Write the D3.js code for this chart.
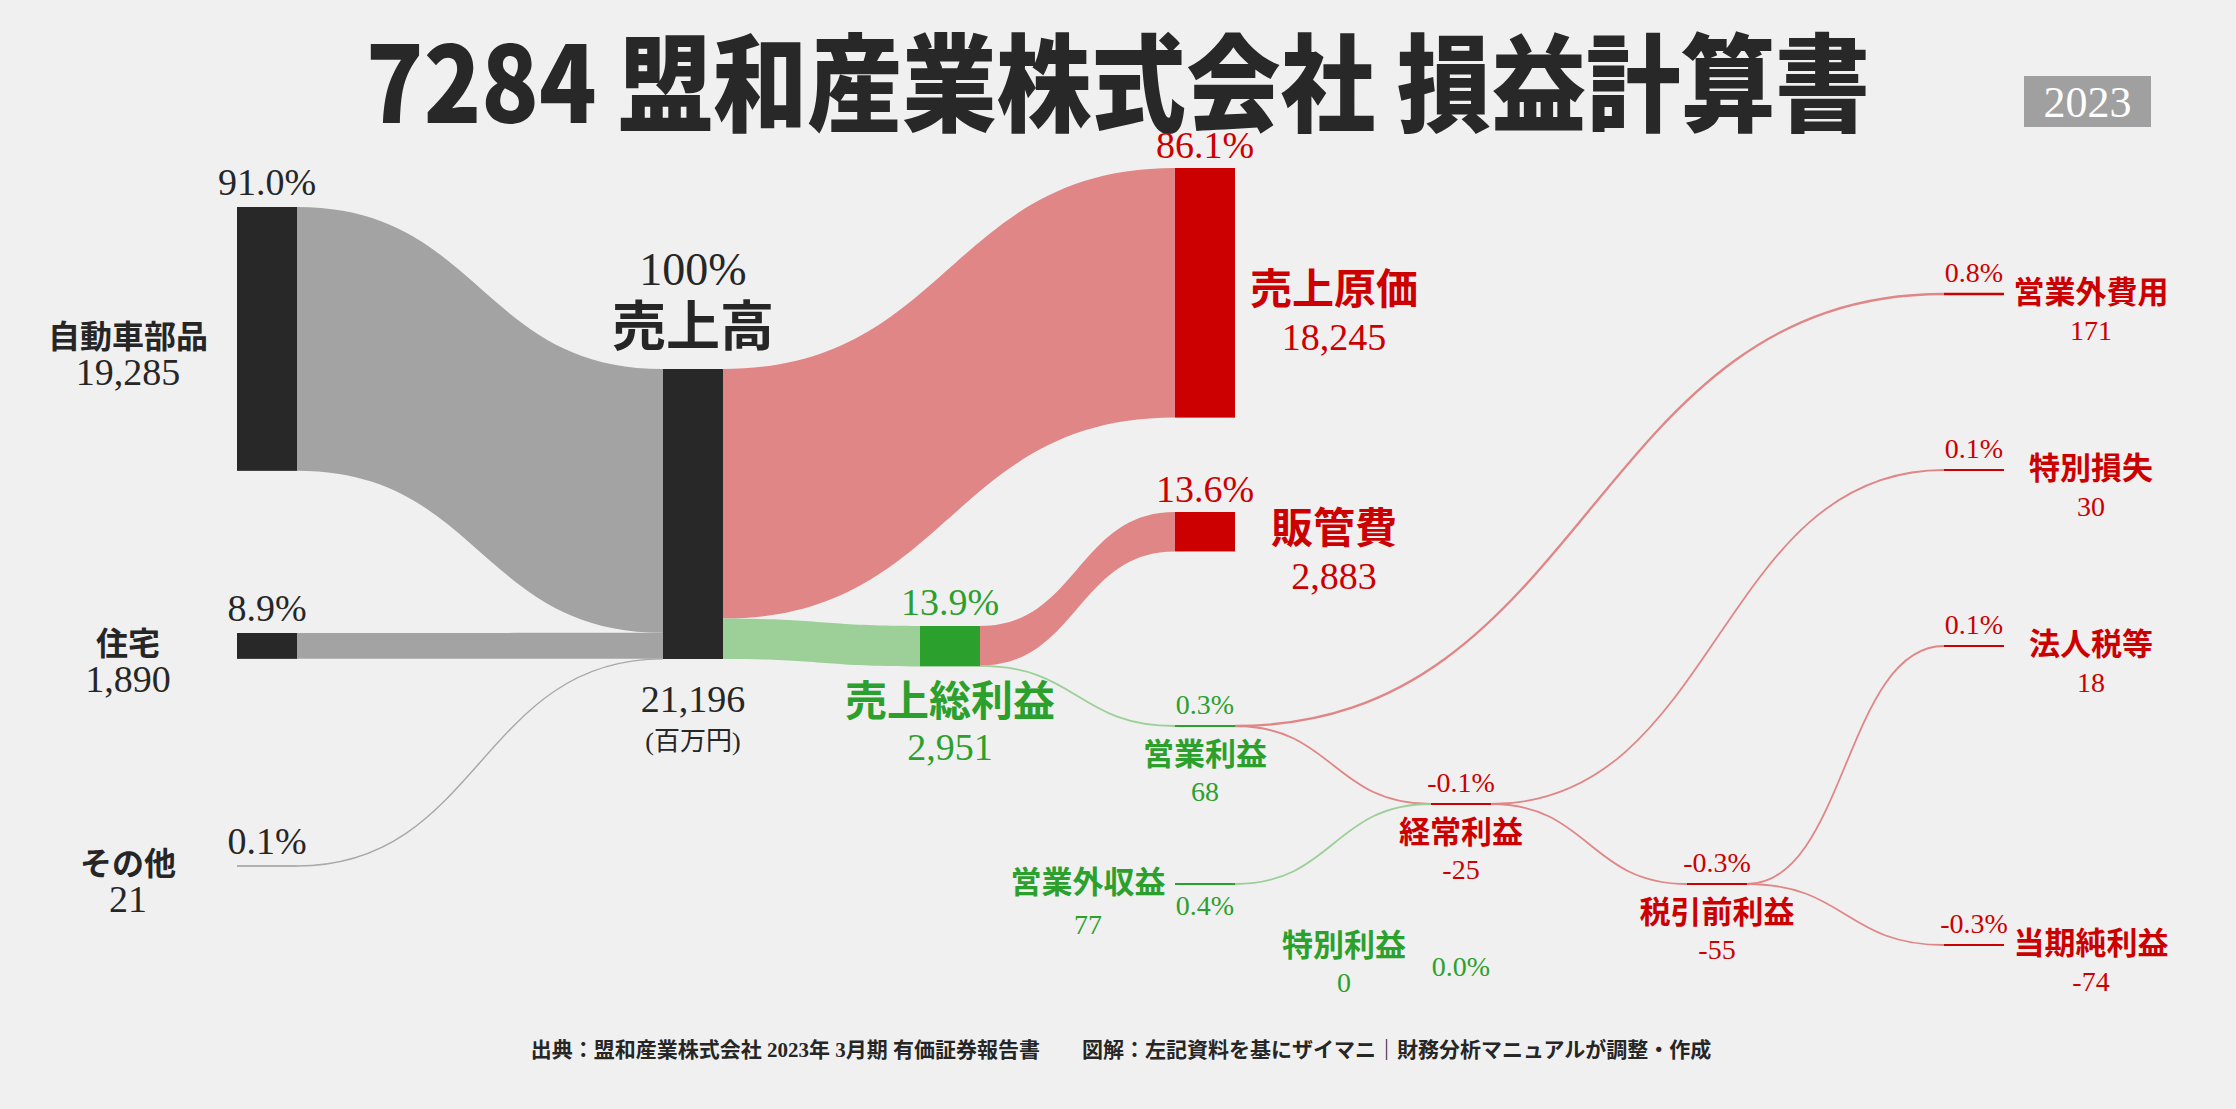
<!DOCTYPE html>
<html><head><meta charset="utf-8">
<script src="https://cdn.jsdelivr.net/npm/d3@7"></script>
<style>html,body{margin:0;padding:0;background:#f0f0f0;overflow:hidden}</style>
</head><body>
<svg id="c" width="2236" height="1109"></svg>
<script>
// ---------------- DATA ----------------
const titleText = "7284 盟和産業株式会社 損益計算書";
const yearText = "2023";
const footerText = "出典：盟和産業株式会社 2023年 3月期 有価証券報告書　　図解：左記資料を基にザイマニ｜財務分析マニュアルが調整・作成";
const unitText = "(百万円)";

const nodeNames = ["自動車部品","住宅","その他","売上高","売上原価","売上総利益","販管費","営業利益","営業外収益","営業外費用","経常利益","特別利益","特別損失","税引前利益","法人税等","当期純利益"];
const nodeValues = [19285,1890,21,21196,18245,2951,2883,68,77,171,-25,0,30,-55,18,-74];
const nodePctLabels = ["91.0%","8.9%","0.1%","100%","86.1%","13.9%","13.6%","0.3%","0.4%","0.8%","-0.1%","0.0%","0.1%","-0.3%","0.1%","-0.3%"];
const nodeKinds = ["base","base","base","base","cost","profit","cost","profit","profit","cost","loss","profit","cost","loss","cost","loss"];

const linkSources = [0,1,2,3,3,5,5,7,7,8,10,10,13,13];
const linkTargets = [3,3,3,4,5,6,7,9,10,10,12,13,14,15];
const linkValues  = [19285,1890,21,18245,2951,2883,68,171,25,77,30,55,18,74];
const linkKinds   = ["base","base","base","cost","profit","cost","profit","cost","loss","profit","cost","loss","cost","loss"];

// ---------------- LAYOUT (not data) ----------------
const W = 2236, H = 1109;
const colX = [237, 663, 920, 1175, 1431, 1687, 1944];
const nodeW = 60;
const nodeCol = [0,0,0,1,3,2,3,3,3,6,4,4,6,5,6,6];
const nodeAnchor = [207,633,866,369,168,626,512,726,884,294,804,988,470,884,646,945];

const nodeFill = {base:"#282828", cost:"#cc0000", loss:"#cc0000", profit:"#2ca02c"};
const linkFill = {base:"#a3a3a3", cost:"#e08686", loss:"#e08686", profit:"#9dcf98"};
const textFill = {base:"#262626", cost:"#cc0000", loss:"#cc0000", profit:"#2ca02c"};

const hScale = d3.scaleLinear().domain([0, 21196]).range([0, 290]);
const THIN = 4;
const NY = -5;

const svg = d3.select("#c");
svg.append("rect").attr("width", W).attr("height", H).attr("fill", "#f0f0f0");

const SERIF = "'Liberation Serif','Noto Sans CJK JP',serif";
const GOTH = "'Noto Sans CJK JP','Noto Sans',sans-serif";

const nodes = nodeNames.map((name, i) => {
  const h = hScale(Math.abs(nodeValues[i]));
  const thin = h < THIN;
  const x0 = colX[nodeCol[i]];
  const y0 = nodeAnchor[i];
  return {i, name, value: nodeValues[i], kind: nodeKinds[i], x0, x1: x0 + nodeW, thin,
          y0, y1: thin ? y0 : y0 + h, h, outOff: 0, inOff: 0};
});

const links = linkSources.map((s, k) => {
  const S = nodes[s], T = nodes[linkTargets[k]];
  const w = hScale(linkValues[k]);
  let sy0, sy1, ty0, ty1;
  if (S.thin) { sy0 = sy1 = S.y0; } else { sy0 = S.y0 + S.outOff; sy1 = sy0 + w; S.outOff += w; }
  if (T.thin) { ty0 = ty1 = T.y0; } else { ty0 = T.y0 + T.inOff; ty1 = ty0 + w; T.inOff += w; }
  return {S, T, w, sy0, sy1, ty0, ty1, kind: linkKinds[k]};
});

const gLinks = svg.append("g");
links.forEach(l => {
  const sx = l.S.x1, tx = l.T.x0, mx = (sx + tx) / 2;
  if (l.w >= THIN) {
    const p = d3.path();
    p.moveTo(sx, l.sy0);
    p.bezierCurveTo(mx, l.sy0, mx, l.ty0, tx, l.ty0);
    p.lineTo(tx, l.ty1);
    p.bezierCurveTo(mx, l.ty1, mx, l.sy1, sx, l.sy1);
    p.closePath();
    gLinks.append("path").attr("d", p.toString()).attr("fill", linkFill[l.kind]);
  } else {
    const sy = (l.sy0 + l.sy1) / 2, ty = (l.ty0 + l.ty1) / 2;
    const p = d3.path();
    p.moveTo(sx, sy);
    p.bezierCurveTo(mx, sy, mx, ty, tx, ty);
    gLinks.append("path").attr("d", p.toString()).attr("fill", "none")
      .attr("stroke", l.kind === "base" ? "#a8a8a8" : linkFill[l.kind])
      .attr("stroke-width", Math.max(l.w, l.kind === "base" ? 1.4 : 1.8));
  }
});

const gNodes = svg.append("g");
nodes.forEach(n => {
  if (n.value === 0) return;
  if (!n.thin) {
    gNodes.append("rect").attr("x", n.x0).attr("y", n.y0).attr("width", nodeW).attr("height", n.h)
      .attr("fill", nodeFill[n.kind]);
  } else {
    const sw = n.kind === "base" ? 1.4 : Math.max(n.h, 2);
    gNodes.append("line").attr("x1", n.x0).attr("x2", n.x1).attr("y1", n.y0).attr("y2", n.y0)
      .attr("stroke", n.kind === "base" ? "#9c9c9c" : nodeFill[n.kind]).attr("stroke-width", sw);
  }
});

// ---------------- TEXT ----------------
function txt(x, y, s, o) {
  return svg.append("text").attr("x", x).attr("y", y).text(s)
    .attr("font-family", o.family || SERIF)
    .attr("font-size", o.size)
    .attr("font-weight", o.weight || 400)
    .attr("fill", o.fill || "#262626")
    .attr("text-anchor", o.anchor || "middle")
    .attr("dominant-baseline", o.base || "alphabetic");
}
const loc = d3.formatLocale({decimal: ".", thousands: ",", grouping: [3], currency: ["", ""], minus: "-"});
const fmt = loc.format(",");
const cx = n => (n.x0 + n.x1) / 2;
const cy = n => n.thin ? n.y0 : (n.y0 + n.y1) / 2;

// title + year badge
txt(1118, 123, titleText, {size: 106, weight: 900, family: GOTH, fill: "#282828"})
  .attr("textLength", 1504).attr("lengthAdjust", "spacingAndGlyphs");
svg.append("rect").attr("x", 2024).attr("y", 76).attr("width", 127).attr("height", 51).attr("fill", "#a0a0a0");
txt(2087.5, 117, yearText, {size: 44, fill: "#ffffff"});

// left source nodes
[0,1,2].forEach(i => {
  const n = nodes[i], c = cy(n);
  txt(cx(n), n.y0 - 12, nodePctLabels[i], {size: 38});
  txt(128, c + NY, n.name, {size: 32, weight: 700, family: GOTH, base: "central"});
  txt(128, c + 46, fmt(n.value), {size: 38});
});

// revenue
{
  const n = nodes[3];
  txt(cx(n), 285, nodePctLabels[3], {size: 46});
  txt(cx(n), 327 + NY, n.name, {size: 54, weight: 700, family: GOTH, base: "central"});
  txt(cx(n), n.y1 + 53, fmt(n.value), {size: 38});
  txt(cx(n), n.y1 + 91, unitText, {size: 26});
}

// big cost nodes
[4,6].forEach(i => {
  const n = nodes[i], c = cy(n), col = textFill[n.kind];
  txt(cx(n), n.y0 - 10, nodePctLabels[i], {size: 38, fill: col});
  txt(1334, c - 2 + NY, n.name, {size: 42, weight: 700, family: GOTH, fill: col, base: "central"});
  txt(1334, c + 57, fmt(n.value), {size: 38, fill: col});
});

// gross profit
{
  const n = nodes[5], col = textFill[n.kind];
  txt(cx(n), n.y0 - 11, nodePctLabels[5], {size: 38, fill: col});
  txt(cx(n), n.y1 + 36 + NY, n.name, {size: 42, weight: 700, family: GOTH, fill: col, base: "central"});
  txt(cx(n), n.y1 + 94, fmt(n.value), {size: 38, fill: col});
}

// thin nodes with labels below
[7,10,13].forEach(i => {
  const n = nodes[i], col = textFill[n.kind];
  txt(cx(n), n.y0 - 12, nodePctLabels[i], {size: 28, fill: col});
  txt(cx(n), n.y0 + 30 + NY, n.name, {size: 31, weight: 700, family: GOTH, fill: col, base: "central"});
  txt(cx(n), n.y0 + 75, fmt(n.value), {size: 28, fill: col});
});

// right column
[9,12,14,15].forEach(i => {
  const n = nodes[i], col = textFill[n.kind];
  txt(cx(n), n.y0 - 12, nodePctLabels[i], {size: 28, fill: col});
  txt(2091, n.y0 + NY, n.name, {size: 31, weight: 700, family: GOTH, fill: col, base: "central"});
  txt(2091, n.y0 + 46, fmt(n.value), {size: 28, fill: col});
});

// 営業外収益
{
  const n = nodes[8], col = textFill[n.kind];
  txt(1088, n.y0 + NY, n.name, {size: 31, weight: 700, family: GOTH, fill: col, base: "central"});
  txt(1088, n.y0 + 50, fmt(n.value), {size: 28, fill: col});
  txt(cx(n), n.y0 + 31, nodePctLabels[8], {size: 28, fill: col});
}
// 特別利益
{
  const n = nodes[11], col = textFill[n.kind];
  txt(1344, n.y0 - 41 + NY, n.name, {size: 31, weight: 700, family: GOTH, fill: col, base: "central"});
  txt(1344, n.y0 + 4, fmt(n.value), {size: 28, fill: col});
  txt(cx(n), n.y0 - 12, nodePctLabels[11], {size: 28, fill: col});
}

// footer
txt(1121, 1057, footerText, {size: 21, weight: 700});
</script>
</body></html>
